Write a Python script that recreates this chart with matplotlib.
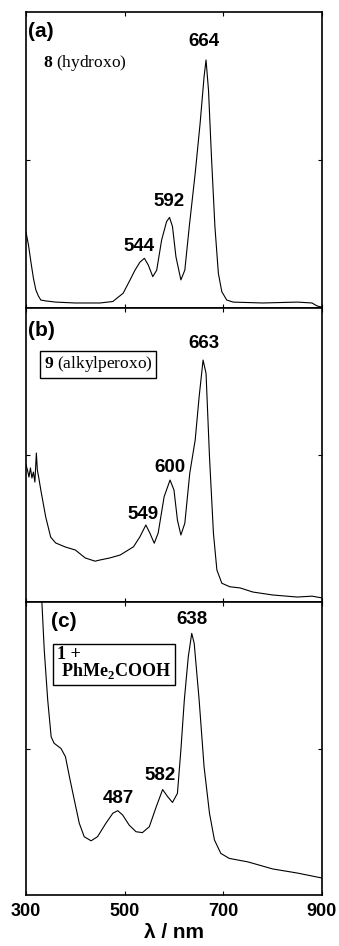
import matplotlib
matplotlib.use("Agg")
from matplotlib import pyplot as plt

plt.rcParams['mathtext.fontset'] = 'custom'
plt.rcParams['mathtext.rm'] = 'Liberation Serif'
plt.rcParams['mathtext.bf'] = 'Liberation Serif:bold'

# spectra (arbitrary absorbance, panel height = 1)
wl_a = [300, 305, 310, 315, 320, 325, 330, 340, 360, 400, 450, 476, 497, 511, 521, 531,
        540, 548, 557, 565, 575, 585, 591, 597, 604, 614, 622, 631, 643, 653, 661, 665,
        670, 676, 683, 690, 697, 707, 720, 780, 850, 880, 890, 900]
abs_a = [0.257, 0.213, 0.155, 0.101, 0.061, 0.041, 0.027, 0.024, 0.020, 0.017, 0.017, 0.022,
         0.050, 0.095, 0.128, 0.155, 0.168, 0.145, 0.106, 0.128, 0.230, 0.292, 0.306, 0.275,
         0.173, 0.095, 0.128, 0.275, 0.455, 0.624, 0.781, 0.838, 0.736, 0.511, 0.275, 0.117,
         0.055, 0.027, 0.020, 0.017, 0.020, 0.017, 0.007, 0.003]

wl_b = [300, 303, 306, 309, 312, 315, 318, 321, 323, 326, 330, 340, 350, 360, 380, 400,
        420, 440, 450, 470, 491, 518, 531, 543, 551, 560, 568, 580, 592, 600, 607, 614,
        622, 632, 643, 651, 659, 665, 672, 680, 687, 697, 713, 734, 760, 800, 850, 880, 900]
abs_b = [0.466, 0.449, 0.425, 0.456, 0.422, 0.442, 0.408, 0.507, 0.449, 0.422, 0.381, 0.289,
         0.221, 0.201, 0.187, 0.177, 0.150, 0.139, 0.143, 0.150, 0.160, 0.188, 0.222, 0.262,
         0.235, 0.200, 0.235, 0.358, 0.415, 0.381, 0.279, 0.228, 0.268, 0.438, 0.551, 0.698,
         0.823, 0.778, 0.494, 0.234, 0.109, 0.064, 0.052, 0.048, 0.034, 0.024, 0.017, 0.020,
         0.014]

wl_c = [328, 332, 337, 344, 351, 357, 371, 380, 388, 398, 408, 418, 432, 445, 462, 476,
        486, 496, 509, 523, 536, 550, 564, 577, 587, 597, 607, 614, 621, 629, 636, 641,
        651, 661, 672, 682, 695, 712, 750, 800, 850, 900]
abs_c = [1.20, 1.007, 0.836, 0.666, 0.540, 0.518, 0.500, 0.472, 0.404, 0.324, 0.245, 0.199,
         0.185, 0.199, 0.245, 0.279, 0.288, 0.273, 0.239, 0.216, 0.213, 0.233, 0.301, 0.360,
         0.336, 0.316, 0.347, 0.495, 0.666, 0.813, 0.893, 0.859, 0.666, 0.438, 0.279, 0.188,
         0.142, 0.125, 0.113, 0.089, 0.075, 0.058]

panel_tags = ['(a)', '(b)', '(c)']
peaks_a = [544, 592, 664]
peaks_b = [549, 600, 663]
peaks_c = [487, 582, 638]
xticks = [300, 500, 700, 900]

fig = plt.figure(figsize=(3.39, 9.46), dpi=100)
boxes = [[0.0767, 0.6744, 0.873, 0.3129],
         [0.0767, 0.3636, 0.873, 0.3108],
         [0.0767, 0.0539, 0.873, 0.3097]]
data = [(wl_a, abs_a, peaks_a), (wl_b, abs_b, peaks_b), (wl_c, abs_c, peaks_c)]
# label positions (nm, height) for the peak numbers
label_pos = [[(529, 0.18), (590, 0.33), (661, 0.87)],
             [(537, 0.27), (592, 0.43), (661, 0.85)],
             [(487, 0.30), (572, 0.38), (636, 0.91)]]
tag_x = [304, 304, 351]
tag_y = [0.965, 0.955, 0.965]

axes = []
for i in range(3):
    ax = fig.add_axes(boxes[i])
    wl, ab, pk = data[i]
    ax.plot(wl, ab, color='black', lw=0.8)
    ax.set_xlim(300, 900)
    ax.set_ylim(0, 1)
    ax.set_xticks(xticks)
    ax.set_yticks([0.5])
    ax.tick_params(direction='in', top=True, right=True, length=3, width=0.8,
                   labelleft=False, labelbottom=(i == 2))
    for s in ax.spines.values():
        s.set_linewidth(1.2)
    for j in range(3):
        lx, ly = label_pos[i][j]
        ax.text(lx, ly, str(pk[j]), ha='center', va='bottom', fontsize=13.5,
                fontweight='bold', family='Liberation Sans')
    ax.text(tag_x[i], tag_y[i], panel_tags[i], ha='left', va='top', fontsize=15,
            fontweight='bold', family='Liberation Sans')
    axes.append(ax)

axes[0].text(0.057, 0.828, r'$\mathbf{8}$ (hydroxo)', transform=axes[0].transAxes,
             fontsize=12.5, family='Liberation Serif', va='center')
axes[1].text(0.06, 0.808, r'$\mathbf{9}$ (alkylperoxo)', transform=axes[1].transAxes,
             fontsize=12.5, family='Liberation Serif', va='center',
             bbox=dict(boxstyle='square,pad=0.2', fc='white', ec='black', lw=1.0))
axes[2].text(0.105, 0.79, '1 +\n PhMe$_\\mathbf{2}$COOH', transform=axes[2].transAxes,
             fontsize=13, family='Liberation Serif', fontweight='bold', va='center',
             linespacing=0.85,
             bbox=dict(boxstyle='square,pad=0.2', fc='white', ec='black', lw=1.0))

axes[2].set_xticklabels([str(t) for t in xticks], fontsize=13, fontweight='bold',
                        family='Liberation Sans')
axes[2].tick_params(axis='x', pad=6)
axes[2].set_xlabel('λ / nm', fontsize=15, fontweight='bold', family='Liberation Sans',
                   labelpad=2)

fig.savefig('out.png', dpi=100)
